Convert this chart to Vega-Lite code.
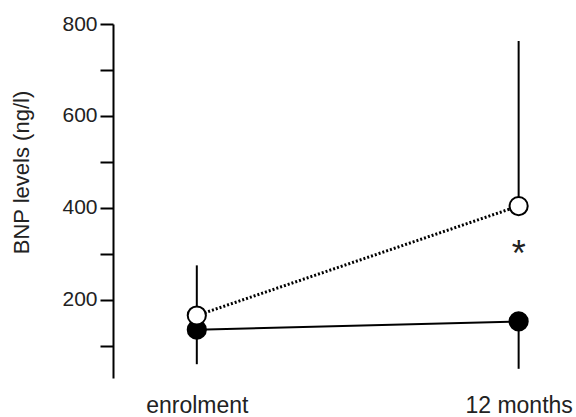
{
  "$schema": "https://vega.github.io/schema/vega-lite/v6.json",
  "autosize": "none",
  "width": 457,
  "height": 354,
  "padding": {"left": 113, "top": 24, "right": 6, "bottom": 39},
  "background": "white",
  "config": {"view": {"stroke": null}, "font": "Liberation Sans"},
  "datasets": {
    "pts": [
      {"time": "enrolment", "group": "control", "bnp": 135, "lo": 60, "hi": 135},
      {"time": "12 months", "group": "control", "bnp": 153, "lo": 50, "hi": 153},
      {"time": "enrolment", "group": "treated", "bnp": 166, "lo": 166, "hi": 275},
      {"time": "12 months", "group": "treated", "bnp": 404, "lo": 404, "hi": 763}
    ],
    "sig": [{"time": "12 months", "bnp": 314, "label": "*"}]
  },
  "encoding": {
    "x": {
      "field": "time", "type": "ordinal", "sort": ["enrolment", "12 months"],
      "scale": {"type": "point", "padding": 0.21, "align": 0.62},
      "axis": {"title": null, "domain": false, "ticks": false, "labelAngle": 0, "labelFontSize": 23, "labelColor": "#222", "labelPadding": 16, "labelFont": "Liberation Sans"}
    }
  },
  "layer": [
    {
      "data": {"name": "pts"},
      "mark": {"type": "rule", "stroke": "black", "strokeWidth": 2},
      "encoding": {
        "y": {"field": "lo", "type": "quantitative", "scale": {"domain": [30, 800], "nice": false, "zero": false},
          "axis": {"title": "BNP levels (ng/l)", "values": [100, 200, 300, 400, 500, 600, 700, 800],
            "labelExpr": "datum.value % 200 === 0 ? datum.label : ''",
            "grid": false, "domainColor": "black", "domainWidth": 2, "tickColor": "black", "tickWidth": 2, "tickSize": 13,
            "labelFontSize": 21, "labelColor": "#222", "labelPadding": 3, "titleFontSize": 22, "titleFontWeight": "normal", "titleColor": "#222", "titleY": 148, "titlePadding": 28}},
        "y2": {"field": "hi"}
      }
    },
    {
      "data": {"name": "pts"},
      "transform": [{"filter": "datum.group === 'control'"}],
      "mark": {"type": "line", "stroke": "black", "strokeWidth": 2},
      "encoding": {"y": {"field": "bnp", "type": "quantitative"}}
    },
    {
      "data": {"name": "pts"},
      "transform": [{"filter": "datum.group === 'treated'"}],
      "mark": {"type": "line", "stroke": "black", "strokeWidth": 3, "strokeDash": [2, 2]},
      "encoding": {"y": {"field": "bnp", "type": "quantitative"}}
    },
    {
      "data": {"name": "pts"},
      "transform": [{"filter": "datum.group === 'control'"}],
      "mark": {"type": "point", "shape": "circle", "filled": true, "fill": "black", "stroke": "black", "strokeWidth": 2, "size": 330, "opacity": 1},
      "encoding": {"y": {"field": "bnp", "type": "quantitative"}}
    },
    {
      "data": {"name": "pts"},
      "transform": [{"filter": "datum.group === 'treated'"}],
      "mark": {"type": "point", "shape": "circle", "filled": true, "fill": "white", "stroke": "black", "strokeWidth": 2, "size": 330, "opacity": 1},
      "encoding": {"y": {"field": "bnp", "type": "quantitative"}}
    },
    {
      "data": {"name": "sig"},
      "mark": {"type": "text", "fontSize": 36, "color": "#222", "baseline": "middle", "dy": 8},
      "encoding": {"y": {"field": "bnp", "type": "quantitative"}, "text": {"field": "label"}}
    }
  ]
}
